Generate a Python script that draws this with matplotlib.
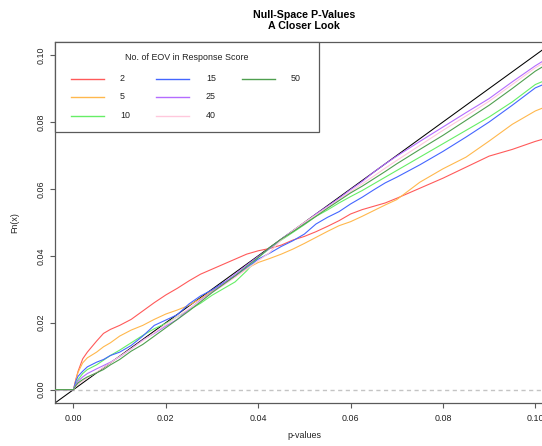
import numpy as np
import matplotlib
matplotlib.use("Agg")
import matplotlib.pyplot as plt
from matplotlib.lines import Line2D
from matplotlib.patches import Rectangle

plt.rcParams["font.family"] = ["Liberation Sans", "DejaVu Sans"]

# Empirical CDF of the null-space p-values, sampled along the p-value axis
p_values = [-0.01, 0.0, 0.0005, 0.001, 0.002, 0.003, 0.005, 0.0065, 0.008, 0.01,
            0.0125, 0.015, 0.0175, 0.02, 0.0225, 0.025, 0.0275, 0.03, 0.0325,
            0.035, 0.0375, 0.04, 0.0425, 0.045, 0.0475, 0.05, 0.0525, 0.055,
            0.0575, 0.06, 0.0625, 0.065, 0.0675, 0.07, 0.075, 0.08, 0.085,
            0.09, 0.095, 0.10, 0.104]

fn_2 = [0, 0, 0.0030, 0.0055, 0.0092, 0.0112, 0.0145, 0.0168, 0.0180, 0.0192,
        0.0210, 0.0235, 0.0260, 0.0283, 0.0303, 0.0325, 0.0345, 0.0360, 0.0375,
        0.0390, 0.0405, 0.0415, 0.0422, 0.0432, 0.0447, 0.0458, 0.0472, 0.0488,
        0.0505, 0.0525, 0.0538, 0.0548, 0.0558, 0.0572, 0.0602, 0.0632, 0.0665,
        0.0698, 0.0718, 0.0742, 0.0758]
fn_5 = [0, 0, 0.0028, 0.0052, 0.0080, 0.0095, 0.0112, 0.0128, 0.0140, 0.0160,
        0.0178, 0.0192, 0.0210, 0.0226, 0.0238, 0.0252, 0.0272, 0.0295, 0.0318,
        0.0338, 0.0362, 0.0380, 0.0392, 0.0405, 0.0420, 0.0437, 0.0455, 0.0473,
        0.0490, 0.0502, 0.0518, 0.0535, 0.0552, 0.0568, 0.0620, 0.0660, 0.0695,
        0.0743, 0.0793, 0.0833, 0.0855]
fn_10 = [0, 0, 0.0018, 0.0030, 0.0048, 0.0060, 0.0074, 0.0088, 0.0102, 0.0118,
         0.0140, 0.0162, 0.0182, 0.0198, 0.0218, 0.0238, 0.0258, 0.0282, 0.0302,
         0.0322, 0.0355, 0.0395, 0.0422, 0.0447, 0.0470, 0.0493, 0.0518, 0.0537,
         0.0558, 0.0577, 0.0595, 0.0615, 0.0635, 0.0655, 0.0695, 0.0735, 0.0775,
         0.0815, 0.0860, 0.0912, 0.0935]
fn_15 = [0, 0, 0.0025, 0.0040, 0.0055, 0.0068, 0.0082, 0.0090, 0.0102, 0.0112,
         0.0132, 0.0160, 0.0192, 0.0208, 0.0224, 0.0256, 0.0280, 0.0298, 0.0320,
         0.0340, 0.0365, 0.0390, 0.0408, 0.0428, 0.0445, 0.0465, 0.0495, 0.0515,
         0.0532, 0.0555, 0.0575, 0.0597, 0.0618, 0.0635, 0.0672, 0.0712, 0.0755,
         0.0800, 0.0850, 0.0902, 0.0925]
fn_25 = [0, 0, 0.0015, 0.0025, 0.0038, 0.0048, 0.0062, 0.0072, 0.0082, 0.0098,
         0.0122, 0.0148, 0.0168, 0.0190, 0.0210, 0.0240, 0.0268, 0.0292, 0.0318,
         0.0345, 0.0372, 0.0398, 0.0422, 0.0450, 0.0475, 0.0498, 0.0525, 0.0548,
         0.0572, 0.0598, 0.0622, 0.0650, 0.0675, 0.0698, 0.0742, 0.0785, 0.0828,
         0.0870, 0.0920, 0.0968, 0.1002]
fn_40 = [0, 0, 0.0010, 0.0016, 0.0026, 0.0035, 0.0052, 0.0066, 0.0080, 0.0099,
         0.0122, 0.0146, 0.0170, 0.0195, 0.0218, 0.0242, 0.0265, 0.0290, 0.0312,
         0.0336, 0.0360, 0.0385, 0.0410, 0.0448, 0.0475, 0.0500, 0.0522, 0.0545,
         0.0568, 0.0592, 0.0615, 0.0638, 0.0662, 0.0685, 0.0730, 0.0775, 0.0818,
         0.0862, 0.0912, 0.0962, 0.0995]
fn_50 = [0, 0, 0.0012, 0.0020, 0.0030, 0.0038, 0.0050, 0.0060, 0.0074, 0.0090,
         0.0115, 0.0135, 0.0160, 0.0185, 0.0210, 0.0235, 0.0262, 0.0290, 0.0315,
         0.0340, 0.0368, 0.0395, 0.0425, 0.0450, 0.0472, 0.0495, 0.0518, 0.0542,
         0.0565, 0.0588, 0.0608, 0.0630, 0.0652, 0.0675, 0.0718, 0.0760, 0.0805,
         0.0850, 0.0900, 0.0952, 0.0985]

eov_labels = ["2", "5", "10", "15", "25", "40", "50"]
eov_colors = ["#ff5a5a", "#ffb84d", "#66ee66", "#4466ff", "#b46cff", "#ffc8dc", "#4f9f4f"]
tick_values = [0.00, 0.02, 0.04, 0.06, 0.08, 0.10]
tick_labels = ["0.00", "0.02", "0.04", "0.06", "0.08", "0.10"]

W, H = 542, 446
fig = plt.figure(figsize=(W / 100, H / 100), dpi=100)


def fig_xy(x, y):
    """Pixel position (from top-left) to figure fraction."""
    return x / W, 1 - y / H


left, right, top, bottom = 55, 553.8, 41.7, 403
ax = fig.add_axes([left / W, 1 - bottom / H, (right - left) / W, (bottom - top) / H])
ax.set_xlim(-0.004, 0.104)
ax.set_ylim(-0.004, 0.104)

axis_grey = "#5a5a5a"
for s in ax.spines.values():
    s.set_color(axis_grey)
    s.set_linewidth(0.9)

ax.axhline(0, color="#c4c4c4", lw=1.0, ls=(0, (3, 2.5)), zorder=1)
ax.axline((0, 0), slope=1, color="black", lw=0.75, zorder=2)

series = [fn_2, fn_5, fn_10, fn_15, fn_25, fn_40, fn_50]
for fn, col in zip(series, eov_colors):
    ax.plot(p_values, fn, color=col, lw=0.8, zorder=3)

ax.set_xticks(tick_values, tick_labels)
ax.set_yticks(tick_values, tick_labels)
ax.tick_params(axis="both", direction="out", length=3.6, width=0.8,
               color=axis_grey, labelsize=6.4, labelcolor="#222222")
ax.tick_params(axis="x", pad=4.3)
ax.tick_params(axis="y", pad=3.2)
for lab in ax.get_yticklabels():
    lab.set_rotation(90)
    lab.set_va("center")

ax.set_xlabel("p-values", fontsize=6.4, color="#222222")
ax.set_ylabel("Fn(x)", fontsize=6.4, color="#222222")
ax.xaxis.set_label_coords(0.5, (bottom - 436) / (bottom - top))
ax.yaxis.set_label_coords((15 - left) / (right - left), 0.5)
ax.xaxis.label.set_va("center")
ax.yaxis.label.set_va("center")

cx = (left + right) / 2
fig.text(*fig_xy(cx, 15), "Null-Space P-Values", ha="center", va="center",
         fontsize=7.7, fontweight="bold")
fig.text(*fig_xy(cx, 26), "A Closer Look", ha="center", va="center",
         fontsize=7.7, fontweight="bold")

# Legend box laid out in three columns, filled column by column
lx0, ly0 = fig_xy(55, 132)
lx1, ly1 = fig_xy(319, 41.7)
fig.add_artist(Rectangle((lx0, ly0), lx1 - lx0, ly1 - ly0, transform=fig.transFigure,
                         facecolor="white", edgecolor=axis_grey, lw=0.9, zorder=5))
fig.text(*fig_xy(187, 57), "No. of EOV in Response Score", ha="center", va="center",
         fontsize=6.4, color="#222222", zorder=6)
col_lines = [(71, 104, 120), (156, 189, 206), (242, 275, 291)]
row_y = [78.5, 96.5, 115.5]
for i, (lab, col) in enumerate(zip(eov_labels, eov_colors)):
    c, r = divmod(i, 3)
    xa, xb, xt = col_lines[c]
    (fa, fy), (fb, _) = fig_xy(xa, row_y[r]), fig_xy(xb, row_y[r])
    fig.add_artist(Line2D([fa, fb], [fy, fy], transform=fig.transFigure,
                          color=col, lw=1.0, zorder=6))
    fig.text(*fig_xy(xt, row_y[r]), lab, ha="left", va="center",
             fontsize=6.4, color="#222222", zorder=6)

fig.savefig("out.png", dpi=100)
